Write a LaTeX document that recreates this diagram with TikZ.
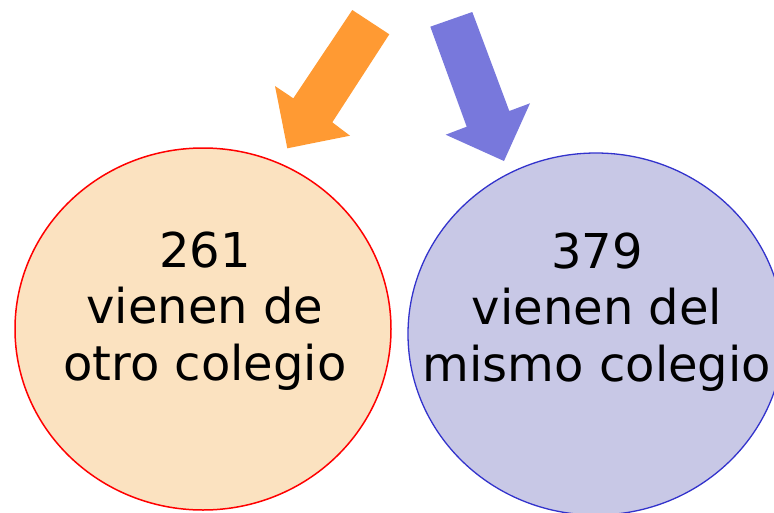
\documentclass[tikz,border=0pt]{standalone}
\usepackage{fontspec}
\setmainfont{DejaVu Sans}
\usetikzlibrary{shapes.geometric}
\definecolor{arrorange}{RGB}{255,154,51}
\definecolor{arrblue}{RGB}{120,120,220}
\definecolor{leftfill}{RGB}{251,226,192}
\definecolor{rightfill}{RGB}{200,200,230}
\definecolor{rightline}{RGB}{51,51,204}
\begin{document}
\begin{tikzpicture}[x=1pt,y=-1pt,
  bubble/.style={ellipse, minimum width=376pt, minimum height=362pt, inner sep=0pt},
  bubbletext/.style={align=center, font=\fontsize{48}{56.5}\selectfont, inner sep=0pt}]
\useasboundingbox (0,0) rectangle (774,512);
\clip (0,0) rectangle (774,512);
% circles
\node[bubble, draw=red, line width=1.5pt, fill=leftfill] (left) at (203,329) {};
\node[bubble, draw=rightline, line width=1.3pt, fill=rightfill] (right) at (596,334) {};
% texts
\node[bubbletext] (lefttext) at (205,311) {261\\vienen de\\otro colegio};
\node[bubbletext] (righttext) at (597,312) {379\\vienen del\\mismo colegio};
% arrows
\fill[arrorange] (352.3,10) -- (389.3,34.3) -- (332.3,122.3) -- (350,135.7) -- (287.3,148.3) -- (275,86) -- (293.3,98.3) -- cycle;
\fill[arrblue] (430.3,26.7) -- (472.3,12) -- (509.3,111) -- (530,103.3) -- (504,161) -- (445.7,134.7) -- (466.7,126.7) -- cycle;
\end{tikzpicture}
\end{document}
